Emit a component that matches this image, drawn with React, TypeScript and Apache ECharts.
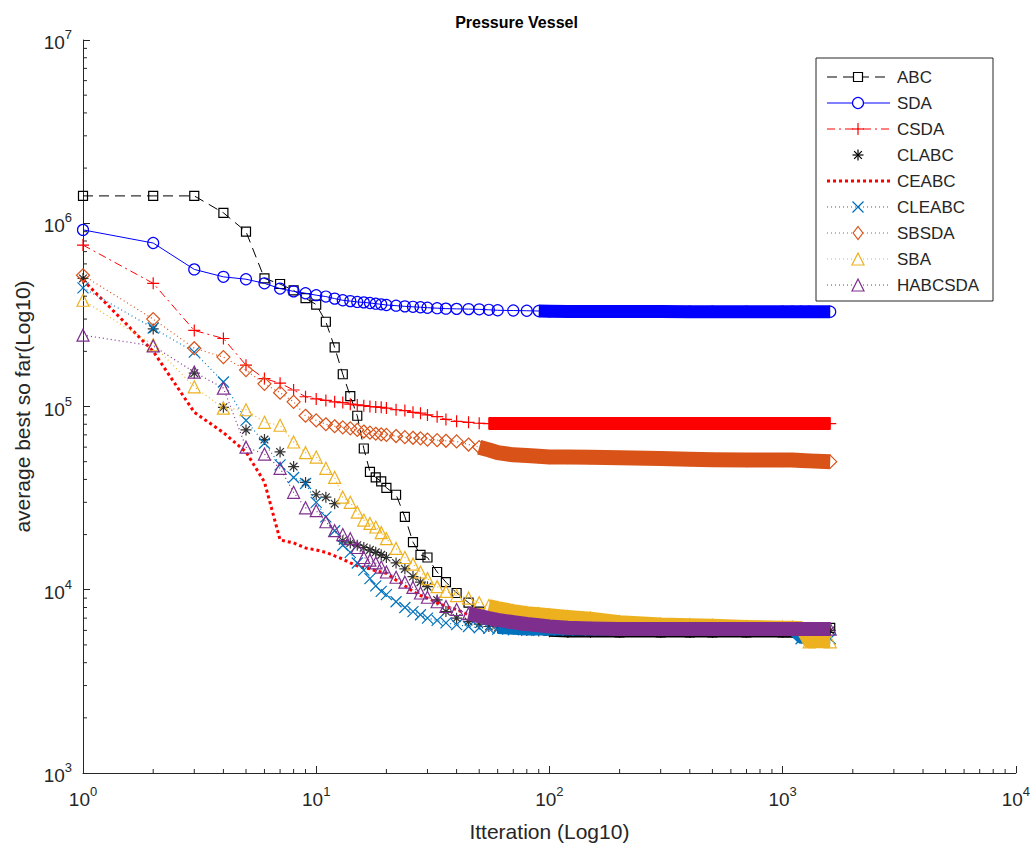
import React, { useEffect, useRef } from 'react';
import * as echarts from 'echarts';

const FONT = '"Liberation Sans", Arial, Helvetica, sans-serif';
const INK = '#262626';

// Iteration numbers at which values were read
const iterations = [1, 2, 3, 4, 5, 6, 7, 8, 9, 10, 11, 12, 13, 14, 15, 16, 17, 18, 19, 20,
  22, 24, 26, 28, 30, 33, 36, 40, 45, 50, 55, 60, 70, 80, 90, 100, 120, 150,
  200, 300, 400, 500, 700, 1000, 1100, 1200, 1300, 1600];

const abcValues = [1.41e6, 1.41e6, 1.41e6, 1.14e6, 9.0e5, 5.0e5, 4.66e5, 4.3e5, 3.9e5, 3.6e5,
  2.9e5, 2.1e5, 1.5e5, 1.14e5, 8.9e4, 5.9e4, 4.4e4, 4.1e4, 3.9e4, 3.6e4,
  3.3e4, 2.5e4, 1.82e4, 1.55e4, 1.5e4, 1.25e4, 1.1e4, 9.6e3, 8.5e3, 7.6e3, 7.1e3, 6.8e3,
  6.5e3, 6.3e3, 6.1e3, 6.0e3, 5.95e3, 5.9e3,
  5.85e3, 5.85e3, 5.85e3, 5.85e3, 5.85e3, 5.85e3, 5.85e3, 5.85e3, 5.9e3, 6.2e3];

const sdaValues = [9.2e5, 7.8e5, 5.6e5, 5.1e5, 4.95e5, 4.7e5, 4.4e5, 4.25e5, 4.15e5, 4.05e5,
  3.98e5, 3.88e5, 3.8e5, 3.76e5, 3.72e5, 3.7e5, 3.67e5, 3.64e5, 3.61e5, 3.58e5,
  3.55e5, 3.52e5, 3.5e5, 3.48e5, 3.46e5, 3.44e5, 3.42e5, 3.41e5, 3.4e5, 3.39e5, 3.37e5, 3.35e5,
  3.34e5, 3.33e5, 3.32e5, 3.31e5, 3.3e5, 3.3e5,
  3.3e5, 3.3e5, 3.29e5, 3.29e5, 3.29e5, 3.29e5, 3.29e5, 3.29e5, 3.29e5, 3.29e5];

const csdaValues = [7.6e5, 4.7e5, 2.6e5, 2.35e5, 1.68e5, 1.42e5, 1.34e5, 1.23e5, 1.13e5, 1.1e5,
  1.08e5, 1.06e5, 1.05e5, 1.03e5, 1.02e5, 1.01e5, 1.0e5, 9.95e4, 9.9e4, 9.8e4,
  9.6e4, 9.5e4, 9.3e4, 9.2e4, 9.0e4, 8.8e4, 8.5e4, 8.3e4, 8.2e4, 8.1e4, 8.07e4, 8.07e4,
  8.07e4, 8.07e4, 8.07e4, 8.07e4, 8.07e4, 8.07e4,
  8.07e4, 8.07e4, 8.07e4, 8.07e4, 8.07e4, 8.07e4, 8.07e4, 8.07e4, 8.07e4, 8.07e4];

const clabcValues = [5.0e5, 2.65e5, 1.52e5, 9.9e4, 7.45e4, 6.6e4, 5.65e4, 4.7e4, 3.85e4, 3.3e4,
  3.2e4, 2.95e4, 1.85e4, 1.8e4, 1.75e4, 1.7e4, 1.65e4, 1.6e4, 1.55e4, 1.5e4,
  1.4e4, 1.3e4, 1.18e4, 1.1e4, 1.04e4, 8.8e3, 7.6e3, 7.0e3, 6.7e3, 6.5e3, 6.3e3, 6.2e3,
  6.1e3, 6.0e3, 5.95e3, 5.9e3, 5.85e3, 5.85e3,
  5.85e3, 5.85e3, 5.85e3, 5.85e3, 5.85e3, 5.85e3, 5.85e3, 5.85e3, 5.85e3, 6.0e3];

const ceabcValues = [4.9e5, 2.0e5, 9.3e4, 7.2e4, 5.65e4, 3.87e4, 1.87e4, 1.8e4, 1.69e4, 1.65e4,
  1.6e4, 1.53e4, 1.47e4, 1.4e4, 1.35e4, 1.32e4, 1.3e4, 1.27e4, 1.25e4, 1.23e4,
  1.13e4, 1.05e4, 9.8e3, 9.3e3, 9.0e3, 8.5e3, 8.1e3, 7.8e3, 7.3e3, 7.0e3, 6.8e3, 6.6e3,
  6.4e3, 6.3e3, 6.2e3, 6.15e3, 6.1e3, 6.1e3,
  6.1e3, 6.1e3, 6.1e3, 6.1e3, 6.1e3, 6.1e3, 6.1e3, 6.1e3, 6.1e3, 6.1e3];

const cleabcValues = [4.44e5, 2.68e5, 1.98e5, 1.36e5, 8.4e4, 6.3e4, 4.8e4, 4.1e4, 3.8e4, 3.0e4,
  2.5e4, 2.1e4, 1.75e4, 1.6e4, 1.4e4, 1.28e4, 1.15e4, 1.05e4, 9.8e3, 9.4e3,
  8.6e3, 8.0e3, 7.6e3, 7.3e3, 7.0e3, 6.8e3, 6.6e3, 6.45e3, 6.3e3, 6.2e3, 6.15e3, 6.1e3,
  6.05e3, 6.0e3, 6.0e3, 6.0e3, 6.0e3, 6.0e3,
  6.0e3, 6.0e3, 6.0e3, 6.0e3, 6.0e3, 6.0e3, 6.0e3, 5.4e3, 5.4e3, 5.4e3];

const sbsdaValues = [5.2e5, 3.0e5, 2.08e5, 1.86e5, 1.58e5, 1.33e5, 1.19e5, 1.06e5, 8.9e4, 8.4e4,
  8.0e4, 7.8e4, 7.7e4, 7.6e4, 7.45e4, 7.3e4, 7.2e4, 7.1e4, 7.05e4, 7.0e4,
  6.9e4, 6.8e4, 6.75e4, 6.7e4, 6.6e4, 6.55e4, 6.5e4, 6.45e4, 6.2e4, 6.0e4, 5.8e4, 5.6e4,
  5.45e4, 5.4e4, 5.35e4, 5.3e4, 5.3e4, 5.28e4,
  5.25e4, 5.2e4, 5.15e4, 5.12e4, 5.1e4, 5.1e4, 5.1e4, 5.08e4, 5.05e4, 5.0e4];

const sbaValues = [3.8e5, 2.17e5, 1.28e5, 9.8e4, 9.6e4, 8.2e4, 7.9e4, 6.4e4, 5.6e4, 5.3e4,
  4.6e4, 4.1e4, 3.2e4, 3.0e4, 2.65e4, 2.4e4, 2.3e4, 2.2e4, 2.05e4, 1.9e4,
  1.68e4, 1.5e4, 1.38e4, 1.25e4, 1.15e4, 1.04e4, 9.8e3, 9.3e3, 9.0e3, 8.5e3, 8.2e3, 8.0e3,
  7.7e3, 7.5e3, 7.4e3, 7.3e3, 7.15e3, 7.0e3,
  6.7e3, 6.5e3, 6.45e3, 6.4e3, 6.3e3, 6.25e3, 6.25e3, 6.2e3, 5.2e3, 5.2e3];

const habcsdaValues = [2.45e5, 2.14e5, 1.54e5, 1.26e5, 6.0e4, 5.5e4, 4.6e4, 3.4e4, 2.8e4, 2.7e4,
  2.35e4, 2.1e4, 2.0e4, 1.9e4, 1.7e4, 1.5e4, 1.45e4, 1.4e4, 1.33e4, 1.25e4,
  1.17e4, 1.1e4, 1.03e4, 9.6e3, 9.1e3, 8.6e3, 8.1e3, 7.8e3, 7.4e3, 7.2e3, 7.0e3, 6.85e3,
  6.65e3, 6.5e3, 6.4e3, 6.3e3, 6.2e3, 6.15e3,
  6.1e3, 6.1e3, 6.1e3, 6.1e3, 6.1e3, 6.1e3, 6.1e3, 6.1e3, 6.1e3, 6.1e3];

const seriesNames = ['ABC', 'SDA', 'CSDA', 'CLABC', 'CEABC', 'CLEABC', 'SBSDA', 'SBA', 'HABCSDA'];

// Axis ranges and minor tick values
const X_MIN = 1;
const X_MAX = 10000;
const Y_MIN = 1000;
const Y_MAX = 10000000;
const xMinorTicks = [2, 3, 4, 5, 6, 7, 8, 9, 20, 30, 40, 50, 60, 70, 80, 90,
  200, 300, 400, 500, 600, 700, 800, 900, 2000, 3000, 4000, 5000, 6000, 7000, 8000, 9000];
const yMinorTicks = [2e3, 3e3, 4e3, 5e3, 6e3, 7e3, 8e3, 9e3, 2e4, 3e4, 4e4, 5e4, 6e4, 7e4, 8e4, 9e4,
  2e5, 3e5, 4e5, 5e5, 6e5, 7e5, 8e5, 9e5, 2e6, 3e6, 4e6, 5e6, 6e6, 7e6, 8e6, 9e6];

const PLUS = 'path://M0,5L10,5M5,0L5,10';
const CROSS = 'path://M0,0L10,10M10,0L0,10';
const ASTER = 'path://M0,5L10,5M5,0L5,10M1.5,1.5L8.5,8.5M8.5,1.5L1.5,8.5';

type Spec = {
  values: number[];
  color: string;
  scatter?: boolean;
  dash?: any;
  width?: number;
  symbol: string;
  marker: string;
  size: number;
  bandFrom?: number;
  bandWidth?: number;
};

const specs: Spec[] = [
  { values: abcValues, color: '#000000', dash: [10, 6], width: 1, symbol: 'rect', marker: 'rect', size: 9, bandFrom: 100, bandWidth: 9 },
  { values: sdaValues, color: '#0000FF', dash: 'solid', width: 1, symbol: 'circle', marker: 'circle', size: 11, bandFrom: 90, bandWidth: 13 },
  { values: csdaValues, color: '#FF0000', dash: [8, 4, 2, 4], width: 1, symbol: PLUS, marker: 'plus', size: 12, bandFrom: 55, bandWidth: 13 },
  { values: clabcValues, color: '#000000', scatter: true, symbol: ASTER, marker: 'asterisk', size: 11, bandFrom: 100, bandWidth: 10 },
  { values: ceabcValues, color: '#FF0000', dash: [3, 3], width: 3, symbol: 'none', marker: 'none', size: 0 },
  { values: cleabcValues, color: '#0072BD', dash: [1, 3], width: 1.2, symbol: CROSS, marker: 'cross', size: 11, bandFrom: 60, bandWidth: 10 },
  { values: sbsdaValues, color: '#D95319', dash: [1, 3], width: 1.2, symbol: 'diamond', marker: 'diamond', size: 13, bandFrom: 50, bandWidth: 15 },
  { values: sbaValues, color: '#EDB120', dash: [1, 3], width: 1.2, symbol: 'triangle', marker: 'triangle', size: 12, bandFrom: 55, bandWidth: 13 },
  { values: habcsdaValues, color: '#7E2F8E', dash: [1, 3], width: 1.2, symbol: 'triangle', marker: 'triangle', size: 12, bandFrom: 45, bandWidth: 14 },
];

function supLabel(v: number) {
  const e = Math.round(Math.log10(v));
  return '{b|10}{s|' + e + '}';
}

const richLabel = {
  b: { fontSize: 19, fontFamily: FONT, color: INK, lineHeight: 24, verticalAlign: 'bottom' },
  s: { fontSize: 13, fontFamily: FONT, color: INK, lineHeight: 14, verticalAlign: 'top' },
};

function legendMarker(kind: string, cx: number, cy: number, color: string, s: number): any[] {
  const st = { fill: 'none', stroke: color, lineWidth: 1.2 };
  const h = s / 2;
  const ln = (x1: number, y1: number, x2: number, y2: number) => ({
    type: 'line', z: 101, shape: { x1, y1, x2, y2 }, style: { stroke: color, lineWidth: 1.2 },
  });
  switch (kind) {
    case 'rect':
      return [{ type: 'rect', z: 101, shape: { x: cx - h, y: cy - h, width: s, height: s }, style: { ...st, fill: '#fff' } }];
    case 'circle':
      return [{ type: 'circle', z: 101, shape: { cx, cy, r: h }, style: { ...st, fill: '#fff' } }];
    case 'diamond':
      return [{ type: 'polygon', z: 101, shape: { points: [[cx, cy - h], [cx + h * 0.75, cy], [cx, cy + h], [cx - h * 0.75, cy]] }, style: { ...st, fill: '#fff' } }];
    case 'triangle':
      return [{ type: 'polygon', z: 101, shape: { points: [[cx, cy - h], [cx + h, cy + h], [cx - h, cy + h]] }, style: { ...st, fill: '#fff' } }];
    case 'plus':
      return [ln(cx - h, cy, cx + h, cy), ln(cx, cy - h, cx, cy + h)];
    case 'cross':
      return [ln(cx - h, cy - h, cx + h, cy + h), ln(cx + h, cy - h, cx - h, cy + h)];
    case 'asterisk':
      return [ln(cx - h, cy, cx + h, cy), ln(cx, cy - h, cx, cy + h),
        ln(cx - h * 0.7, cy - h * 0.7, cx + h * 0.7, cy + h * 0.7), ln(cx + h * 0.7, cy - h * 0.7, cx - h * 0.7, cy + h * 0.7)];
    default:
      return [];
  }
}

export default function App() {
  const ref = useRef<HTMLDivElement>(null);

  useEffect(() => {
    if (!ref.current) return;
    const chart = echarts.init(ref.current, null, { renderer: 'svg' });

    const series: any[] = [];
    specs.forEach((sp, i) => {
      const data = iterations.map((x, k) => [x, sp.values[k]]);
      const zMain = 2 + i * 2;
      if (sp.scatter) {
        series.push({
          type: 'scatter', name: seriesNames[i], data, symbol: sp.symbol, symbolSize: sp.size, silent: true, z: zMain,
          itemStyle: { color: 'rgba(0,0,0,0)', borderColor: sp.color, borderWidth: 1.2 },
        });
      } else {
        series.push({
          type: 'line', name: seriesNames[i], data, symbol: sp.symbol, symbolSize: sp.size, z: zMain,
          showSymbol: sp.symbol !== 'none', showAllSymbol: true, silent: true,
          itemStyle: { color: 'rgba(0,0,0,0)', borderColor: sp.color, borderWidth: 1.2 },
          lineStyle: { color: sp.color, width: sp.width, type: sp.dash },
        });
      }
      if (sp.bandFrom) {
        series.push({
          type: 'line', name: seriesNames[i] + '_band', data: data.filter((d) => d[0] >= (sp.bandFrom as number)),
          symbol: 'none', silent: true, z: zMain + 1,
          lineStyle: { color: sp.color, width: sp.bandWidth, type: 'solid', cap: 'butt', join: 'round' },
        });
      }
    });

    series.push({
      type: 'custom', name: 'xMinor', coordinateSystem: 'cartesian2d', silent: true, clip: false, z: 60,
      data: xMinorTicks.map((v) => [v, Y_MIN]),
      renderItem: (_p: any, api: any) => {
        const p = api.coord([api.value(0), api.value(1)]);
        return { type: 'line', shape: { x1: p[0], y1: p[1], x2: p[0], y2: p[1] - 4 }, style: { stroke: INK, lineWidth: 1 } };
      },
    });
    series.push({
      type: 'custom', name: 'yMinor', coordinateSystem: 'cartesian2d', silent: true, clip: false, z: 60,
      data: yMinorTicks.map((v) => [X_MIN, v]),
      renderItem: (_p: any, api: any) => {
        const p = api.coord([api.value(0), api.value(1)]);
        return { type: 'line', shape: { x1: p[0], y1: p[1], x2: p[0] + 4, y2: p[1] }, style: { stroke: INK, lineWidth: 1 } };
      },
    });

    // Legend drawn as graphic
    const graphic: any[] = [];
    const lx = 816, ly = 58, lw = 177, lh = 243;
    graphic.push({ type: 'rect', z: 100, shape: { x: lx, y: ly, width: lw, height: lh }, style: { fill: '#fff', stroke: INK, lineWidth: 1 } });
    specs.forEach((sp, i) => {
      const y = 77 + i * 26;
      if (!sp.scatter) {
        graphic.push({
          type: 'line', z: 101, shape: { x1: 827, y1: y, x2: 890, y2: y },
          style: { stroke: sp.color, lineWidth: sp.width, lineDash: sp.dash === 'solid' ? null : sp.dash },
        });
      }
      legendMarker(sp.marker, 858, y, sp.color, sp.size).forEach((g) => graphic.push(g));
      graphic.push({
        type: 'text', z: 101, x: 897, y,
        style: { text: seriesNames[i], fontSize: 17, fontFamily: FONT, fill: INK, align: 'left', verticalAlign: 'middle' },
      });
    });

    chart.setOption({
      animation: false,
      backgroundColor: '#ffffff',
      title: {
        text: 'Pressure Vessel', left: 'center', top: 9,
        textStyle: { fontSize: 16, fontWeight: 'bold', fontFamily: FONT, color: '#000' },
      },
      grid: { left: 83, right: 17, top: 40, bottom: 77, containLabel: false },
      xAxis: {
        type: 'log', logBase: 10, min: X_MIN, max: X_MAX, splitNumber: 4,
        name: 'Itteration (Log10)', nameLocation: 'middle', nameGap: 48,
        nameTextStyle: { fontSize: 21, fontFamily: FONT, color: INK },
        axisLine: { show: true, onZero: false, lineStyle: { color: INK, width: 1 } },
        axisTick: { show: true, inside: true, length: 7, lineStyle: { color: INK } },
        splitLine: { show: false },
        axisLabel: { formatter: supLabel, rich: richLabel, margin: 12, color: INK },
      },
      yAxis: {
        type: 'log', logBase: 10, min: Y_MIN, max: Y_MAX, splitNumber: 4,
        name: 'average best so far(Log10)', nameLocation: 'middle', nameGap: 50,
        nameTextStyle: { fontSize: 21, fontFamily: FONT, color: INK },
        axisLine: { show: true, onZero: false, lineStyle: { color: INK, width: 1 } },
        axisTick: { show: true, inside: true, length: 7, lineStyle: { color: INK } },
        splitLine: { show: false },
        axisLabel: { formatter: supLabel, rich: richLabel, margin: 11, color: INK },
      },
      series,
      graphic,
    });

    return () => chart.dispose();
  }, []);

  return <div ref={ref} style={{ position: 'absolute', left: 0, top: 0, width: 1033, height: 850, background: '#fff' }} />;
}
